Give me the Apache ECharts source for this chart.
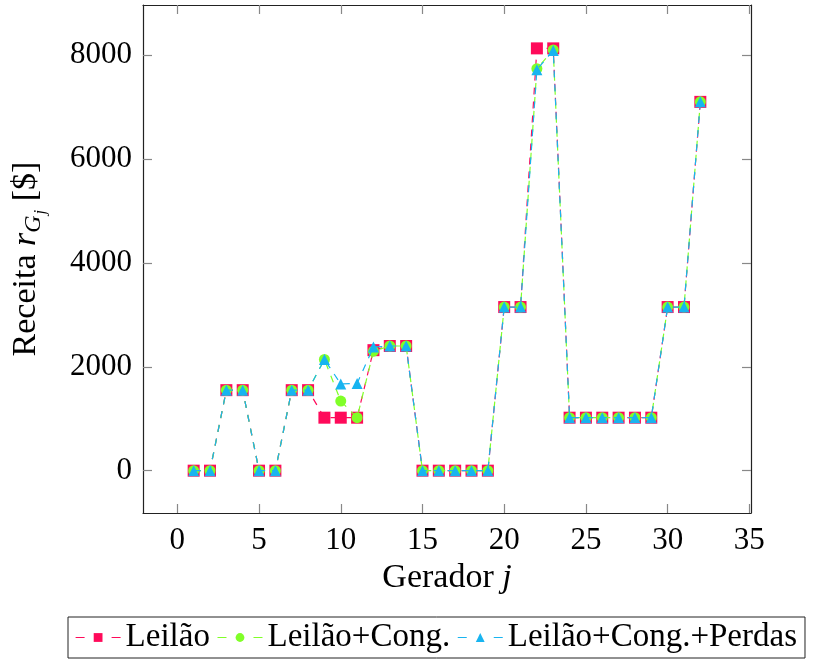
<!DOCTYPE html>
<html>
<head>
<meta charset="utf-8">
<title>Receita por gerador</title>
<script src="https://cdn.jsdelivr.net/npm/echarts@6/dist/echarts.min.js"></script>
<style>
  html, body { margin: 0; padding: 0; background: #fff; }
  #chart { width: 822px; height: 663px; }
</style>
</head>
<body>
<div id="chart"></div>
<script>
// Generator indices (x axis)
const generators = [1,2,3,4,5,6,7,8,9,10,11,12,13,14,15,16,17,18,19,20,21,22,23,24,25,26,27,28,29,30,31,32];

// Revenue per generator [$]
const leilao = [0,0,1550,1550,0,0,1550,1550,1020,1020,1020,2320,2400,2400,0,0,0,0,0,3150,3150,8130,8130,1020,1020,1020,1020,1020,1020,3150,3150,7100];
const leilaoCong = [0,0,1550,1550,0,0,1550,1550,2140,1340,1020,2300,2400,2400,0,0,0,0,0,3150,3150,7740,8100,1020,1020,1020,1020,1020,1020,3150,3150,7100];
const leilaoCongPerdas = [0,0,1550,1550,0,0,1550,1550,2140,1670,1680,2380,2400,2400,0,0,0,0,0,3150,3150,7720,8090,1020,1020,1020,1020,1020,1020,3150,3150,7100];

// Tick positions
const xTicks = [0,5,10,15,20,25,30,35];
const yTicks = [0,2000,4000,6000,8000];

const seriesNames = ['Leilão', 'Leilão+Cong.', 'Leilão+Cong.+Perdas'];

const FONT = 'Liberation Serif';
const FS_TICK = 31;
const FS_TEXT = 34;
const FS_LEGEND = 33;
const frameColor = '#222';
const tickColor = '#888';

const pairs = vals => generators.map((g, i) => [g, vals[i]]);

const axisCommon = {
  type: 'value',
  splitLine: { show: false },
  axisLine: { show: true, onZero: false, lineStyle: { color: frameColor, width: 1.2 } },
};

const tickStyle = values => ({
  show: true, inside: true, length: 9, customValues: values,
  lineStyle: { color: tickColor, width: 1.2 }
});

const chart = echarts.init(document.getElementById('chart'), null, { renderer: 'canvas' });

chart.setOption({
  animation: false,
  backgroundColor: '#fff',
  grid: { left: 143, right: 71, top: 5, bottom: 150, containLabel: false },
  legend: {
    data: seriesNames,
    orient: 'horizontal',
    left: 68,
    top: 617,
    width: 800,
    itemWidth: 45,
    itemHeight: 11,
    itemGap: 7,
    padding: [4, 8, 4, 7],
    borderColor: frameColor,
    borderWidth: 1,
    textStyle: { fontFamily: FONT, fontSize: FS_LEGEND, color: '#000' },
    lineStyle: { type: [9, 27], width: 1.2 }
  },
  xAxis: [
    Object.assign({}, axisCommon, {
      position: 'bottom',
      min: -2.1, max: 35.1,
      axisTick: tickStyle(xTicks),
      axisLabel: { show: true, customValues: xTicks, margin: 12, fontFamily: FONT, fontSize: FS_TICK, color: '#000' },
      name: '{a|Gerador }{i|j}',
      nameLocation: 'middle',
      nameGap: 47,
      nameTextStyle: {
        rich: {
          a: { fontFamily: FONT, fontSize: FS_TEXT, color: '#000' },
          i: { fontFamily: FONT, fontSize: FS_TEXT, fontStyle: 'italic', color: '#000' }
        }
      }
    }),
    Object.assign({}, axisCommon, {
      position: 'top',
      min: -2.1, max: 35.1,
      axisTick: tickStyle(xTicks),
      axisLabel: { show: false }
    })
  ],
  yAxis: [
    Object.assign({}, axisCommon, {
      position: 'left',
      min: -815, max: 8965,
      axisTick: tickStyle(yTicks),
      axisLabel: {
        show: true, customValues: yTicks, margin: 11,
        fontFamily: FONT, fontSize: FS_TICK, color: '#000',
        formatter: v => String(v)
      },
      name: '{a|Receita }{i|r}{s|G}{t|j}{a| [$]}',
      nameLocation: 'middle',
      nameGap: 94,
      nameTextStyle: {
        rich: {
          a: { fontFamily: FONT, fontSize: FS_TEXT, color: '#000' },
          i: { fontFamily: FONT, fontSize: FS_TEXT, fontStyle: 'italic', color: '#000' },
          s: { fontFamily: FONT, fontSize: 24, fontStyle: 'italic', color: '#000', padding: [15, 0, 0, 0] },
          t: { fontFamily: FONT, fontSize: 17, fontStyle: 'italic', color: '#000', padding: [28, 0, 0, 1] }
        }
      }
    }),
    Object.assign({}, axisCommon, {
      position: 'right',
      min: -815, max: 8965,
      axisTick: tickStyle(yTicks),
      axisLabel: { show: false }
    })
  ],
  series: [
    {
      name: seriesNames[0],
      type: 'line',
      xAxisIndex: 0, yAxisIndex: 0,
      data: pairs(leilao),
      symbol: 'rect',
      symbolSize: 12,
      showAllSymbol: true,
      color: '#FF0A5A',
      lineStyle: { color: '#FF0A5A', width: 1.2, type: [7, 7] },
      itemStyle: { color: '#FF0A5A' },
      z: 2
    },
    {
      name: seriesNames[1],
      type: 'line',
      xAxisIndex: 0, yAxisIndex: 0,
      data: pairs(leilaoCong),
      symbol: 'circle',
      symbolSize: 11,
      showAllSymbol: true,
      color: '#80FF28',
      lineStyle: { color: '#80FF28', width: 1.2, type: [7, 7] },
      itemStyle: { color: '#80FF28' },
      z: 3
    },
    {
      name: seriesNames[2],
      type: 'line',
      xAxisIndex: 0, yAxisIndex: 0,
      data: pairs(leilaoCongPerdas),
      symbol: 'triangle',
      symbolSize: 11,
      showAllSymbol: true,
      color: '#18B4F0',
      lineStyle: { color: '#18B4F0', width: 1.2, type: [7, 7] },
      itemStyle: { color: '#18B4F0' },
      z: 4
    }
  ]
});
</script>
</body>
</html>
